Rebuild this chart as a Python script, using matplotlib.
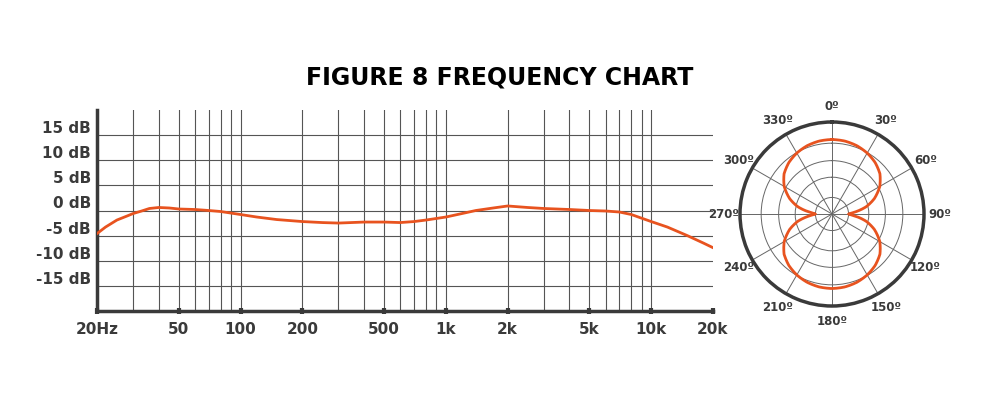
import numpy as np
import matplotlib.pyplot as plt

# frequency response (Hz, dB)
freq = [20, 22, 25, 28, 30, 33, 36, 40, 45, 50, 60, 70, 80, 100, 120, 150,
        200, 250, 300, 400, 500, 600, 700, 800, 1000, 1200, 1400, 1700, 2000,
        2500, 3000, 4000, 5000, 6000, 7000, 8000, 10000, 12000, 15000, 18000, 20000]
gain = [-4.6, -3.3, -1.9, -1.1, -0.6, -0.1, 0.4, 0.6, 0.5, 0.3, 0.2, 0.0, -0.2,
        -0.8, -1.3, -1.8, -2.2, -2.4, -2.5, -2.3, -2.3, -2.4, -2.2, -1.9, -1.3,
        -0.6, 0.0, 0.5, 0.9, 0.6, 0.4, 0.2, 0.0, -0.1, -0.3, -0.8, -2.2, -3.3,
        -5.0, -6.5, -7.4]
db_ticks = [15, 10, 5, 0, -5, -10, -15]
freq_ticks = [20, 50, 100, 200, 500, 1000, 2000, 5000, 10000, 20000]
freq_labels = ["20Hz", "50", "100", "200", "500", "1k", "2k", "5k", "10k", "20k"]

# polar pattern (deg, relative radius), mirrored for symmetry
pat_deg = [0, 10, 20, 30, 40, 50, 60, 70, 78, 84, 88, 90]
pat_r = [0.81, 0.805, 0.79, 0.765, 0.73, 0.68, 0.60, 0.49, 0.38, 0.27, 0.20, 0.18]
angle_labels = [0, 30, 60, 90, 120, 150, 180, 210, 240, 270, 300, 330]

orange = "#E8531F"
dark = "#3a3a3a"

fig = plt.figure(figsize=(10, 4), dpi=100)
fig.text(0.5, 0.805, "FIGURE 8 FREQUENCY CHART", ha="center", va="center",
         fontsize=17, fontweight="bold", color="black")

ax = fig.add_axes([0.097, 0.2225, 0.616, 0.5025])
ax.set_xscale("log")
ax.set_xlim(20, 20000)
ax.set_ylim(-20, 20)
grid_f = [f * d for d in (10, 100, 1000) for f in range(2, 11)]
for f in grid_f:
    ax.axvline(f, color="#555555", lw=0.8, zorder=1)
for d in db_ticks:
    ax.axhline(d, color="#555555", lw=0.8, zorder=1)
ax.plot(freq, gain, color=orange, lw=2, zorder=3)
ax.set_xticks(freq_ticks)
ax.set_xticklabels(freq_labels)
ax.xaxis.set_minor_locator(plt.NullLocator())
ax.tick_params(axis="x", length=4, width=3, color=dark, direction="inout",
               labelsize=11, labelcolor=dark, pad=6)
ax.set_yticks([])
for d in db_ticks:
    ax.text(-0.01, d + 1.3, f"{d} dB", transform=ax.get_yaxis_transform(),
            ha="right", va="center", fontsize=11, fontweight="bold", color=dark)
for lab in ax.get_xticklabels():
    lab.set_fontweight("bold")
for s in ("top", "right"):
    ax.spines[s].set_visible(False)
ax.spines["left"].set_linewidth(2.5)
ax.spines["bottom"].set_linewidth(2.5)
ax.spines["left"].set_color(dark)
ax.spines["bottom"].set_color(dark)

# polar plot
pax = fig.add_axes([0.740, 0.235, 0.184, 0.46], projection="polar")
pax.set_theta_zero_location("N")
pax.set_theta_direction(-1)
deg = np.array(pat_deg, dtype=float)
r = np.array(pat_r)
full_deg = np.concatenate([deg, 180 - deg[::-1], 180 + deg, 360 - deg[::-1]])
full_r = np.concatenate([r, r[::-1], r, r[::-1]])
order = np.argsort(full_deg)
fine = np.linspace(0, 360, 721)
fine_r = np.interp(fine, full_deg[order], full_r[order])
pax.plot(np.radians(fine), fine_r, color=orange, lw=2, zorder=3)
pax.set_ylim(0, 1)
pax.set_rticks([0.18, 0.4, 0.58, 0.77])
pax.set_yticklabels([])
pax.set_xticks(np.radians(angle_labels))
pax.set_xticklabels([f"{a}º" for a in angle_labels], fontsize=8.5,
                    fontweight="bold", color=dark)
pax.tick_params(axis="x", pad=1)
pax.grid(color="#666666", lw=0.7)
pax.spines["polar"].set_linewidth(2.5)
pax.spines["polar"].set_color(dark)

fig.savefig("out.png", dpi=100)
